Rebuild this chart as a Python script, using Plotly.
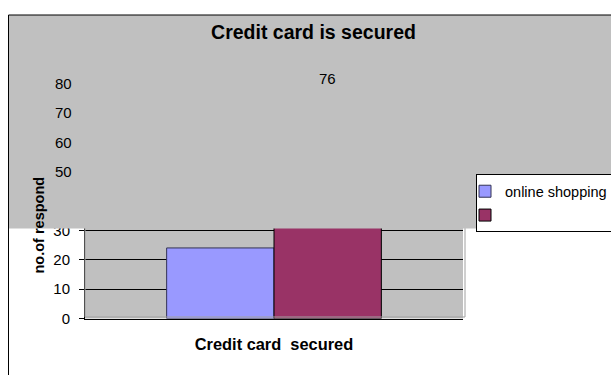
import plotly.graph_objects as go

# Figure size in pixels
W, H = 611, 375

# ---- data -------------------------------------------------------------
categories = ["Credit card\u00a0 secured"]
online_shopping = [24]
second_series = [76]
series_names = ["online shopping", " "]
y_ticks = [0, 10, 20, 30, 40, 50, 60, 70, 80]
lower_tick_labels = [0, 10, 20, 30]
upper_tick_labels = [50, 60, 70, 80]
value_label = 76

FONT = "Liberation Sans, Arial, Helvetica, sans-serif"
GREY = "#C0C0C0"


def px_x(x):
    """Pixel column -> paper x fraction (margins are zero)."""
    return x / W


def px_y(y):
    """Pixel row (from top) -> paper y fraction."""
    return 1 - y / H


fig = go.Figure()
fig.add_bar(
    x=categories, y=online_shopping, name=series_names[0], legendgroup="s1",
    marker=dict(color="#9999FF", line=dict(color="#333355", width=1)),
    hoverinfo="skip",
)
fig.add_bar(
    x=categories, y=second_series, name=series_names[1], legendgroup="s2",
    marker=dict(color="#993366", line=dict(color="#000000", width=1)),
    hoverinfo="skip",
)

shapes = [
    # plot-area frame
    dict(type="rect", xref="paper", yref="paper", layer="above",
         x0=px_x(85), x1=px_x(465), y0=px_y(317), y1=px_y(83),
         line=dict(color="#A0A0A0", width=1), fillcolor="rgba(0,0,0,0)"),
    # grey panel across the upper part of the chart
    dict(type="rect", xref="paper", yref="paper", layer="above",
         x0=px_x(8), x1=1.02, y0=px_y(228.5), y1=px_y(15),
         line=dict(width=0), fillcolor=GREY),
    # chart-area border
    dict(type="rect", xref="paper", yref="paper", layer="above",
         x0=px_x(8.5), x1=1.05, y0=-0.05, y1=px_y(15),
         line=dict(color="black", width=1), fillcolor="rgba(0,0,0,0)"),
]

# axis labels that sit on top of the grey panel
annotations = [
    dict(text=str(v), xref="paper", x=px_x(85), xanchor="right", xshift=-11,
         yref="y", y=v, yanchor="middle", showarrow=False,
         font=dict(size=15, color="black"))
    for v in upper_tick_labels
]
annotations.append(
    dict(text=str(value_label), xref="x", x=categories[0], xshift=53,
         yref="y", y=value_label, yanchor="bottom", yshift=6,
         showarrow=False, font=dict(size=15, color="black"))
)
annotations.append(
    dict(text="<b>no.of respond</b>", textangle=-90, xref="paper",
         x=px_x(38.5), yref="paper", y=px_y(225), xanchor="center",
         yanchor="middle", showarrow=False,
         font=dict(size=14.5, color="black"))
)

tick_text = [str(v) if v in lower_tick_labels else "" for v in y_ticks]

fig.update_layout(
    width=W, height=H,
    margin=dict(l=0, r=0, t=0, b=0, autoexpand=False),
    paper_bgcolor="white", plot_bgcolor=GREY,
    barmode="group", bargap=0.432, bargroupgap=0,
    font=dict(family=FONT, size=15, color="black"),
    title=dict(text="<b>Credit card is secured</b>", x=px_x(313.5),
               xanchor="center", y=px_y(32), yanchor="middle",
               font=dict(size=19.5, color="black")),
    xaxis=dict(domain=[px_x(85), px_x(463)], showticklabels=False, ticks="",
               showline=True, linecolor="black", linewidth=1,
               showgrid=False, fixedrange=True,
               title=dict(text="<b>Credit card\u00a0 secured</b>",
                          font=dict(size=16.4, color="black"), standoff=20)),
    yaxis=dict(domain=[px_y(318.5), px_y(83.3)], range=[0, 80],
               tickvals=y_ticks, ticktext=tick_text, ticks="outside",
               ticklen=5, tickcolor="black", showline=True,
               linecolor="black", linewidth=1, showgrid=True,
               gridcolor="black", gridwidth=1, zeroline=False,
               ticklabelstandoff=6, fixedrange=True,
               tickfont=dict(size=15, color="black")),
    legend=dict(x=px_x(476), xanchor="left", y=px_y(174.3), yanchor="top",
                bgcolor="white", bordercolor="black", borderwidth=1,
                font=dict(size=14.5, color="black"), tracegroupgap=2,
                indentation=-12, itemclick=False, itemdoubleclick=False),
    shapes=shapes,
    annotations=annotations,
)

fig.write_html("out.html", config={"displayModeBar": False})
